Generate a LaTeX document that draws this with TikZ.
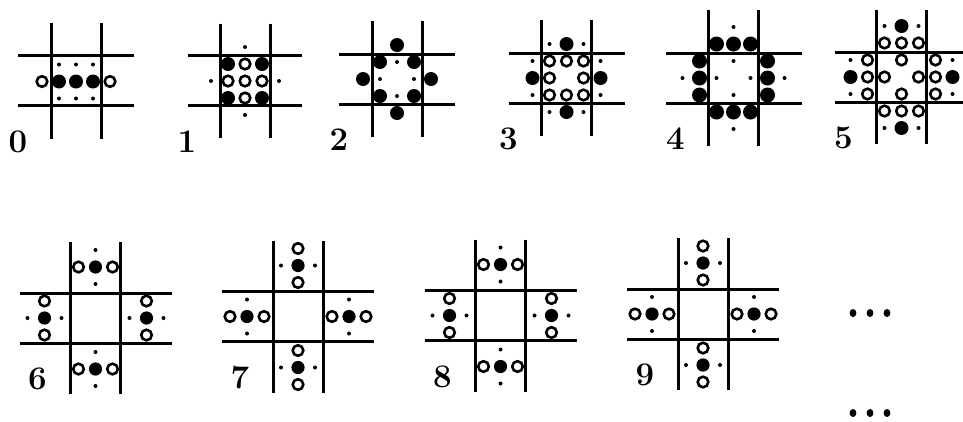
\documentclass[tikz,border=0pt]{standalone}
\usepackage{tikz}

\begin{document}
\begin{tikzpicture}[x=1pt, y=-1pt,
    rule/.style={line width=3pt},
    full/.style={fill=black},
    hollow/.style={draw=black, line width=2.6pt, fill=white},
    speck/.style={fill=black},
    digit/.style={font=\fontsize{33}{33}\selectfont\bfseries, inner sep=0pt}]
  \useasboundingbox (0,0) rectangle (963,421);
  \foreach \cx/\cy/\len [count=\i from 0] in {76/80.5/58, 245/80.5/57,
      397/79/58, 566.5/78/58, 733.5/78/68, 901.5/77/67, 95.5/318/76,
      298/316.5/76, 500.5/315.5/76, 703/314/76} {
    \begin{scope}[shift={(\cx,\cy)}]
      \draw[rule] (-\len,-25) -- (\len,-25) (-\len,25) -- (\len,25)
        (-25,-\len) -- (-25,\len) (25,-\len) -- (25,\len);
      \node[digit] (lab\i) at (-58,61) {\i};
    \end{scope}
  }

  \begin{scope}[shift={(76,81.5)}, x=17pt, y=-17pt]
    \foreach \p in {(-1,0),(0,0),(1,0)} \fill[full] \p circle (7pt);
    \foreach \p in {(-2,0),(2,0)} \draw[hollow] \p circle (5.3pt);
    \foreach \x in {-1,0,1} \foreach \y in {-1,1}
      \fill[speck] (\x,\y) circle (2pt);
  \end{scope}

  \begin{scope}[shift={(245,81)}, x=17pt, y=-17pt]
    \draw[hollow] (0,0) circle (5.3pt);
    \foreach \r in {0,90,180,270} {
      \begin{scope}[rotate=\r]
        \fill[full] (1,1) circle (7pt);
        \draw[hollow] (0,-1) circle (5.3pt);
        \fill[speck] (0,-2) circle (2pt);
      \end{scope}
    }
  \end{scope}

  \begin{scope}[shift={(397,79)}, x=17pt, y=-17pt]
    \foreach \r in {0,90,180,270} {
      \begin{scope}[rotate=\r]
        \fill[full] (1,1) circle (7pt) (0,-2) circle (7pt);
        \fill[speck] (0,-1) circle (2pt);
      \end{scope}
    }
  \end{scope}

  \begin{scope}[shift={(566.5,78)}, x=17pt, y=-17pt]
    \foreach \r in {0,90,180,270} {
      \begin{scope}[rotate=\r]
        \draw[hollow] (1,1) circle (5.3pt) (0,-1) circle (5.3pt);
        \fill[full] (0,-2) circle (7pt);
        \fill[speck] (-1,-2) circle (2pt) (1,-2) circle (2pt);
      \end{scope}
    }
  \end{scope}

  \begin{scope}[shift={(733.5,78)}, x=17pt, y=-17pt]
    \foreach \r in {0,90,180,270} {
      \begin{scope}[rotate=\r]
        \foreach \x in {-1,0,1} \fill[full] (\x,-2) circle (7.5pt);
        \fill[speck] (0,-3) circle (2pt) (0,-1) circle (2pt);
      \end{scope}
    }
  \end{scope}

  \begin{scope}[shift={(901.5,77)}, x=17pt, y=-17pt]
    \foreach \r in {0,90,180,270} {
      \begin{scope}[rotate=\r]
        \foreach \x in {-1,0,1} \draw[hollow] (\x,-2) circle (5.3pt);
        \draw[hollow] (0,-1) circle (5.3pt);
        \fill[full] (0,-3) circle (7pt);
        \fill[speck] (-1,-3) circle (2pt) (1,-3) circle (2pt);
      \end{scope}
    }
  \end{scope}

  \foreach \cx/\cy in {95.5/318, 500.5/315.5} {
    \begin{scope}[shift={(\cx,\cy)}, x=17pt, y=-17pt]
      \foreach \r in {0,90,180,270} {
        \begin{scope}[rotate=\r]
          \fill[full] (0,-3) circle (6.6pt);
          \draw[hollow] (-1,-3) circle (5.3pt) (1,-3) circle (5.3pt);
          \fill[speck] (0,-2) circle (2pt) (0,-4) circle (2pt);
        \end{scope}
      }
    \end{scope}
  }

  \foreach \cx/\cy in {298/316.5, 703/314} {
    \begin{scope}[shift={(\cx,\cy)}, x=17pt, y=-17pt]
      \foreach \r in {0,90,180,270} {
        \begin{scope}[rotate=\r]
          \fill[full] (0,-3) circle (6.6pt);
          \draw[hollow] (0,-2) circle (5.3pt) (0,-4) circle (5.3pt);
          \fill[speck] (-1,-3) circle (2pt) (1,-3) circle (2pt);
        \end{scope}
      }
    \end{scope}
  }

  \foreach \y in {313,413} \foreach \x in {853,870,887}
    \fill (\x,\y) ellipse (3.4 and 4);
\end{tikzpicture}
\end{document}
